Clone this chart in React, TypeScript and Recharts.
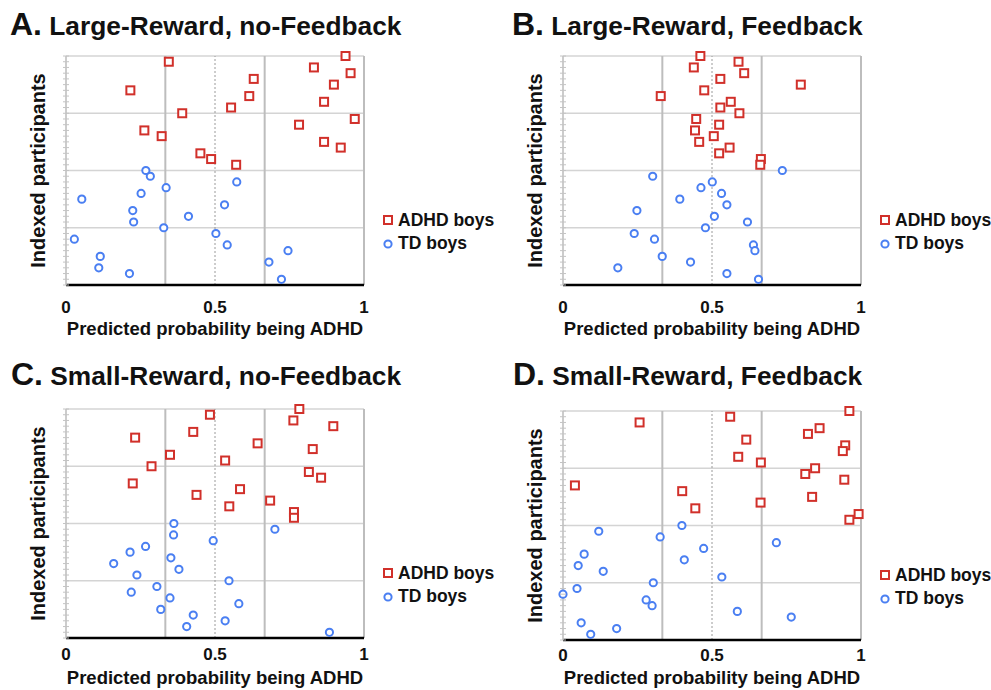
import React from "react";
import {
  ScatterChart,
  Scatter,
  XAxis,
  YAxis,
  ReferenceLine,
  Legend,
} from "recharts";

// x = predicted probability, listed from the top participant downwards
const ADHD_INDEX = [40, 39, 38, 37, 36, 35, 34, 33, 32, 31, 30, 29, 28, 27, 26, 25, 24, 23, 22, 21];
const TD_INDEX = [20, 19, 18, 17, 16, 15, 14, 13, 12, 11, 10, 9, 8, 7, 6, 5, 4, 3, 2, 1];

const A_ADHD = [0.938, 0.345, 0.832, 0.955, 0.63, 0.899, 0.216, 0.615, 0.866, 0.554, 0.39, 0.969, 0.782, 0.263, 0.321, 0.866, 0.922, 0.451, 0.487, 0.571];
const A_TD = [0.268, 0.283, 0.573, 0.336, 0.252, 0.053, 0.532, 0.224, 0.411, 0.227, 0.328, 0.503, 0.028, 0.541, 0.745, 0.115, 0.681, 0.11, 0.213, 0.723];

const B_ADHD = [0.461, 0.589, 0.439, 0.608, 0.528, 0.798, 0.474, 0.328, 0.563, 0.528, 0.592, 0.447, 0.524, 0.443, 0.506, 0.457, 0.559, 0.524, 0.664, 0.662];
const B_TD = [0.736, 0.301, 0.501, 0.463, 0.532, 0.392, 0.55, 0.248, 0.508, 0.619, 0.478, 0.239, 0.307, 0.639, 0.644, 0.333, 0.428, 0.184, 0.55, 0.656];

const C_ADHD = [0.783, 0.483, 0.763, 0.897, 0.427, 0.232, 0.643, 0.828, 0.349, 0.534, 0.287, 0.815, 0.856, 0.224, 0.584, 0.438, 0.685, 0.548, 0.765, 0.765];
const C_TD = [0.362, 0.701, 0.361, 0.494, 0.267, 0.215, 0.352, 0.16, 0.379, 0.238, 0.547, 0.305, 0.219, 0.349, 0.58, 0.318, 0.427, 0.534, 0.405, 0.884];

const D_ADHD = [0.961, 0.561, 0.257, 0.861, 0.822, 0.615, 0.947, 0.939, 0.588, 0.664, 0.846, 0.813, 0.944, 0.04, 0.4, 0.836, 0.663, 0.444, 0.992, 0.961];
const D_TD = [0.399, 0.12, 0.326, 0.716, 0.472, 0.071, 0.407, 0.051, 0.135, 0.533, 0.303, 0.047, 0.0, 0.279, 0.299, 0.585, 0.766, 0.061, 0.18, 0.093];

const X_TICKS = [0, 0.5, 1];
const Y_TICKS = Array.from({ length: 41 }, (_, i) => i);
const Y_GRID = [10, 20, 30, 40];
const THIRDS = [1 / 3, 2 / 3];

const RED = "#d1302a";
const BLUE = "#4a7ff2";
const FONT = "'Liberation Sans', Arial, Helvetica, sans-serif";

const toPoints = (xs: number[], idx: number[]) => xs.map((x, i) => ({ x, y: idx[i] }));

const SquareDot = (p: any) => (
  <rect x={p.cx - 4} y={p.cy - 4} width={8} height={8} fill="#fff" stroke={RED} strokeWidth={2} />
);
const CircleDot = (p: any) => (
  <circle cx={p.cx} cy={p.cy} r={3.6} fill="#fff" stroke={BLUE} strokeWidth={2} />
);

// small tick crossing the y axis line
const YTick = (p: any) => (
  <line x1={p.x + 3} x2={p.x + 9} y1={p.y} y2={p.y} stroke="#c4c4c4" strokeWidth={1} />
);

const LegendContent = (props: any) => (
  <div style={{ fontFamily: FONT, fontWeight: 700, fontSize: 17.5, color: "#111" }}>
    {(props.payload || []).map((item: any) => (
      <div key={item.value} style={{ display: "flex", alignItems: "center", height: 23 }}>
        <svg width={14} height={14} style={{ marginRight: 2 }}>
          {item.type === "square" ? (
            <rect x={2} y={2} width={8} height={8} fill="#fff" stroke={RED} strokeWidth={2} />
          ) : (
            <circle cx={6} cy={7} r={3.6} fill="#fff" stroke={BLUE} strokeWidth={2} />
          )}
        </svg>
        {item.value}
      </div>
    ))}
  </div>
);

const YLabel = (props: any) => {
  const { x, y, height } = props.viewBox;
  const cx = x - 18;
  const cy = y + height / 2;
  return (
    <text x={cx} y={cy} transform={`rotate(-90 ${cx} ${cy})`} textAnchor="middle" dominantBaseline="central"
      fontFamily={FONT} fontWeight={700} fontSize={20} fill="#111">
      Indexed participants
    </text>
  );
};

const makeXLabel = (dy: number) => (props: any) => {
  const { x, y, width } = props.viewBox;
  return (
    <text x={x + width / 2} y={y + dy} textAnchor="middle" fontFamily={FONT} fontWeight={700} fontSize={18.5} fill="#111">
      Predicted probability being ADHD
    </text>
  );
};

interface PanelProps {
  letter: string;
  title: string;
  adhd: number[];
  td: number[];
  left: number;
  top: number;
  titleX: number;
  titleY: number;
  tickGap: number;
  labelDy: number;
}

function Panel({ letter, title, adhd, td, left, top, titleX, titleY, tickGap, labelDy }: PanelProps) {
  return (
    <div style={{ position: "absolute", left, top, width: 495, height: 345 }}>
      <svg width={495} height={50} style={{ position: "absolute", left: 0, top: 0 }}>
        <text x={titleX} y={titleY} fontFamily={FONT} fontWeight={700} fill="#111">
          <tspan fontSize={32}>{letter}</tspan>
          <tspan fontSize={26.3}>{" " + title}</tspan>
        </text>
      </svg>
      <ScatterChart width={495} height={345} margin={{ top: 56, right: 131, bottom: 0, left: 56 }}>
        {Y_GRID.map((v) => (
          <ReferenceLine key={"h" + v} y={v} stroke="#d4d4d4" strokeWidth={1.5} />
        ))}
        {THIRDS.map((v) => (
          <ReferenceLine key={v} x={v} stroke="#bdbdbd" strokeWidth={2} />
        ))}
        <ReferenceLine x={0.5} stroke="#9a9a9a" strokeWidth={1} strokeDasharray="2 2" />
        <ReferenceLine x={1} stroke="#bdbdbd" strokeWidth={2} />
        <XAxis
          type="number"
          dataKey="x"
          domain={[0, 1]}
          ticks={X_TICKS}
          height={60}
          axisLine={{ stroke: "#000", strokeWidth: 2.5 }}
          tickLine={false}
          tickSize={0}
          tickMargin={tickGap}
          tick={{ fontFamily: FONT, fontWeight: 700, fontSize: 17, fill: "#111" }}
          label={{ content: makeXLabel(labelDy) }}
        />
        <YAxis
          type="number"
          dataKey="y"
          domain={[0, 40]}
          ticks={Y_TICKS}
          interval={0}
          width={10}
          axisLine={{ stroke: "#bbbbbb", strokeWidth: 1.5 }}
          tickLine={false}
          tickSize={6}
          tickMargin={0}
          tick={YTick}
          label={{ content: YLabel }}
        />
        <Legend
          layout="vertical"
          align="center"
          verticalAlign="middle"
          content={LegendContent}
          wrapperStyle={{ left: 382, top: 209, width: 120 }}
        />
        <Scatter name="ADHD boys" data={toPoints(adhd, ADHD_INDEX)} legendType="square" shape={SquareDot} isAnimationActive={false} />
        <Scatter name="TD boys" data={toPoints(td, TD_INDEX)} legendType="circle" shape={CircleDot} isAnimationActive={false} />
      </ScatterChart>
    </div>
  );
}

export default function App() {
  return (
    <div style={{ position: "absolute", left: 0, top: 0, width: 991, height: 690, background: "#fff" }}>
      <Panel letter="A." title="Large-Reward, no-Feedback" adhd={A_ADHD} td={A_TD} left={0} top={0} titleX={10} titleY={35} tickGap={16} labelDy={50} />
      <Panel letter="B." title="Large-Reward, Feedback" adhd={B_ADHD} td={B_TD} left={497} top={0} titleX={15} titleY={35} tickGap={16} labelDy={50} />
      <Panel letter="C." title="Small-Reward, no-Feedback" adhd={C_ADHD} td={C_TD} left={0} top={353} titleX={11} titleY={32} tickGap={10} labelDy={46} />
      <Panel letter="D." title="Small-Reward, Feedback" adhd={D_ADHD} td={D_TD} left={497} top={355} titleX={16} titleY={30} tickGap={9} labelDy={44} />
    </div>
  );
}
